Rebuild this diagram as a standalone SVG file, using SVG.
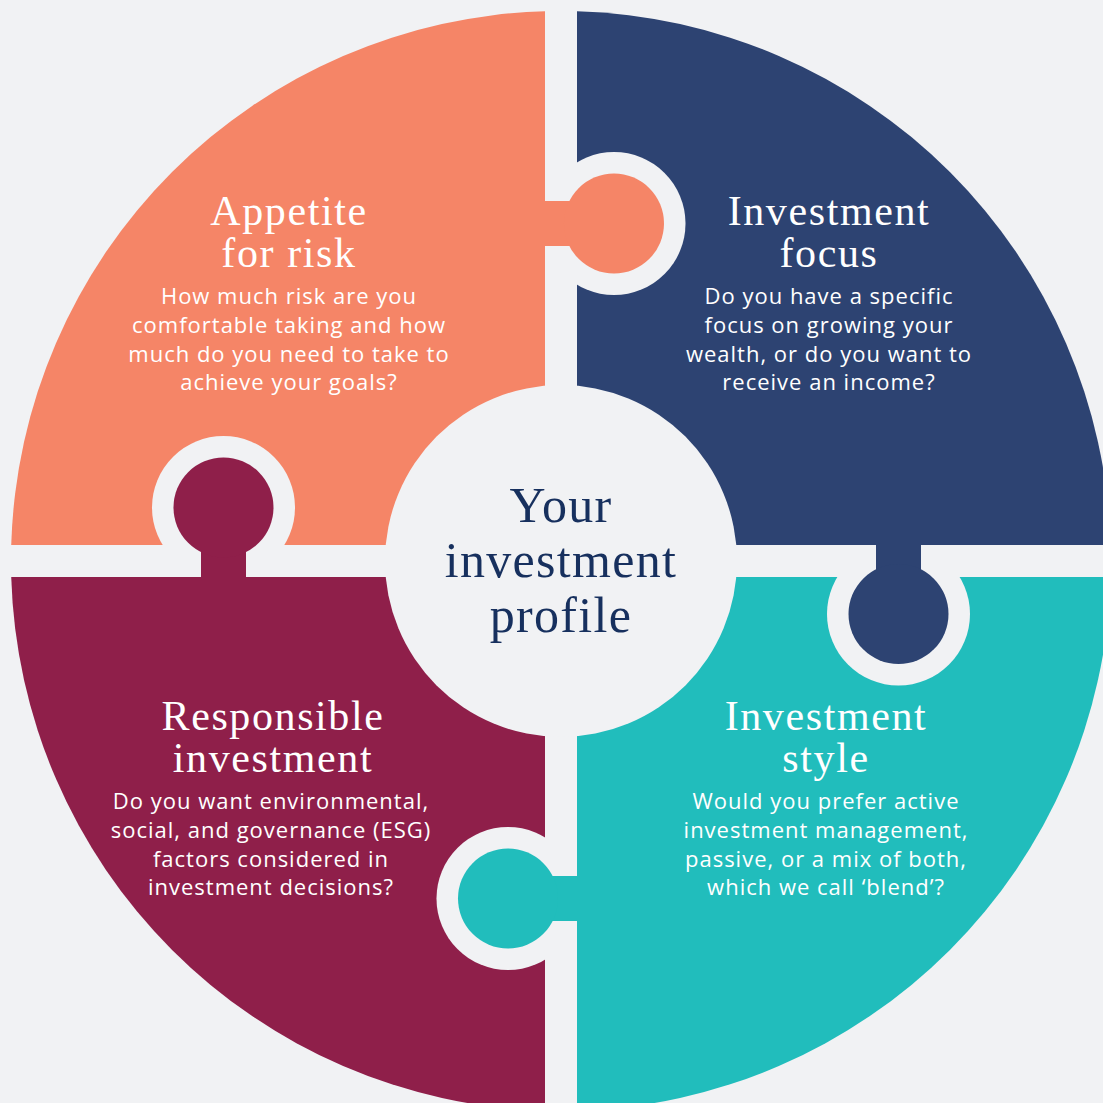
<svg xmlns="http://www.w3.org/2000/svg" width="1103" height="1103" viewBox="0 0 1103 1103">
<style>
.bg{fill:#f1f2f4}
.title{font-family:"Liberation Serif","Times New Roman",serif;font-size:42px;fill:#ffffff;text-anchor:middle;letter-spacing:1.6px}
.body{font-family:"Open Sans","Noto Sans","Liberation Sans",sans-serif;font-size:22px;fill:#ffffff;text-anchor:middle;letter-spacing:1px}
.center{font-family:"Liberation Serif","Times New Roman",serif;font-size:50px;fill:#17305e;text-anchor:middle;letter-spacing:1.3px}
.orange{fill:#f58567}
.navy{fill:#2d4372}
.teal{fill:#21bdbc}
.maroon{fill:#8f1f4a}
</style>
<defs>
<mask id="cutOrange" maskUnits="userSpaceOnUse" x="0" y="0" width="1103" height="1103">
<rect width="1103" height="1103" fill="#fff"/>
<circle cx="223.5" cy="507.5" r="71.5" fill="#000"/>
</mask>
<mask id="cutNavy" maskUnits="userSpaceOnUse" x="0" y="0" width="1103" height="1103">
<rect width="1103" height="1103" fill="#fff"/>
<circle cx="614" cy="223.5" r="71.5" fill="#000"/>
</mask>
<mask id="cutTeal" maskUnits="userSpaceOnUse" x="0" y="0" width="1103" height="1103">
<rect width="1103" height="1103" fill="#fff"/>
<circle cx="898.5" cy="614" r="71.5" fill="#000"/>
</mask>
<mask id="cutMaroon" maskUnits="userSpaceOnUse" x="0" y="0" width="1103" height="1103">
<rect width="1103" height="1103" fill="#fff"/>
<circle cx="508" cy="898.5" r="71.5" fill="#000"/>
</mask>
</defs>
<rect class="bg" x="0" y="0" width="1103" height="1103"/>

<g id="appetite-for-risk">
<path class="orange" mask="url(#cutOrange)" d="M545,545 L545,11.23 A550,550 0 0 0 11.23,545 Z"/>
<rect class="orange" x="540" y="201" width="70" height="45"/>
<circle class="orange" cx="614" cy="223.5" r="50"/>
<text class="title" x="289" y="225">Appetite</text>
<text class="title" x="289" y="267">for risk</text>
<text class="body" x="289" y="304">How much risk are you</text>
<text class="body" x="289" y="333">comfortable taking and how</text>
<text class="body" x="289" y="362">much do you need to take to</text>
<text class="body" x="289" y="390">achieve your goals?</text>
</g>

<g id="investment-focus">
<path class="navy" mask="url(#cutNavy)" d="M577,545 L1110.77,545 A550,550 0 0 0 577,11.23 Z"/>
<rect class="navy" x="876" y="540" width="45" height="70"/>
<circle class="navy" cx="898.5" cy="614" r="50"/>
<text class="title" x="829" y="225">Investment</text>
<text class="title" x="829" y="267">focus</text>
<text class="body" x="829" y="304">Do you have a specific</text>
<text class="body" x="829" y="333">focus on growing your</text>
<text class="body" x="829" y="362">wealth, or do you want to</text>
<text class="body" x="829" y="390">receive an income?</text>
</g>

<g id="investment-style">
<path class="teal" mask="url(#cutTeal)" d="M577,577 L577,1110.77 A550,550 0 0 0 1110.77,577 Z"/>
<rect class="teal" x="512" y="876" width="70" height="45"/>
<circle class="teal" cx="508" cy="898.5" r="50"/>
<text class="title" x="826" y="730">Investment</text>
<text class="title" x="826" y="772">style</text>
<text class="body" x="826" y="809">Would you prefer active</text>
<text class="body" x="826" y="838">investment management,</text>
<text class="body" x="826" y="867">passive, or a mix of both,</text>
<text class="body" x="826" y="895">which we call ‘blend’?</text>
</g>

<g id="responsible-investment">
<path class="maroon" mask="url(#cutMaroon)" d="M545,577 L11.23,577 A550,550 0 0 0 545,1110.77 Z"/>
<rect class="maroon" x="201" y="512" width="45" height="70"/>
<circle class="maroon" cx="223.5" cy="507.5" r="50"/>
<text class="title" x="273" y="730">Responsible</text>
<text class="title" x="273" y="772">investment</text>
<text class="body" x="271" y="809">Do you want environmental,</text>
<text class="body" x="271" y="838">social, and governance (ESG)</text>
<text class="body" x="271" y="867">factors considered in</text>
<text class="body" x="271" y="895">investment decisions?</text>
</g>

<g id="your-investment-profile">
<circle class="bg" cx="561" cy="561" r="176"/>
<text class="center" x="561" y="522">Your</text>
<text class="center" x="561" y="577">investment</text>
<text class="center" x="561" y="632">profile</text>
</g>

<g id="connectors"></g>
</svg>
